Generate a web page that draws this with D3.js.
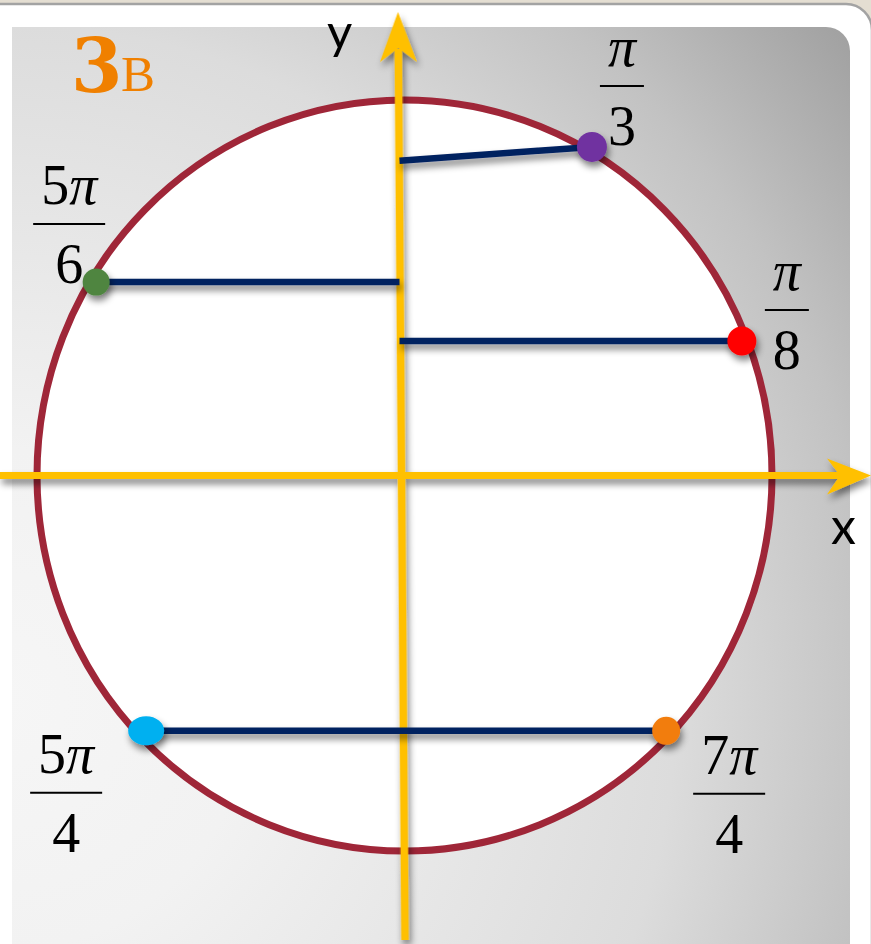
<!DOCTYPE html>
<html>
<head>
<meta charset="utf-8">
<script src="https://cdn.jsdelivr.net/npm/d3@7"></script>
<style>
  body { margin: 0; background: #e4ded2; }
  svg { display: block; }
</style>
</head>
<body>
<svg id="unitCircle" width="871" height="944"></svg>
<script>
// angle labels for each marked point
const angleNum = ['π', 'π', '5π', '5π', '7π'];
const angleDen = ['8', '3', '6', '4', '4'];
// point positions on the unit circle (cos, sin)
const cosVals = [0.918, 0.510, -0.839, -0.703, 0.712];
const sinVals = [0.358, 0.875, 0.515, -0.680, -0.680];
// chords: start (x0,y0) -> end (x1,y1), unit coordinates (0 = on the y axis)
const chordX0 = [0, 0, -0.839, -0.703];
const chordY0 = [0.358, 0.838, 0.515, -0.680];
const chordX1 = [0.918, 0.510, 0, 0.712];
const chordY1 = [0.358, 0.875, 0.515, -0.680];
const axisNames = ['x', 'y'];
const title = ['3', 'B'];

const svg = d3.select('#unitCircle');
const width = +svg.attr('width');
const height = +svg.attr('height');

const pointColors = ['#ff0000', '#7030a0', '#4f8540', '#00b0f0', '#f27d0c'];
const pointRx = [14.5, 15, 13.5, 18, 14];
const pointRy = [14.5, 15, 13.5, 14.5, 14];
// label offsets (fraction bar centre relative to point)
const labelDx = [45, 30, -27, -80, 63];
const labelDy = [-31, -61, -58, 62, 63];

const x = d3.scaleLinear().domain([-1, 1]).range([37, 772]);
const y = d3.scaleLinear().domain([-1, 1]).range([851, 100]);

const defs = svg.append('defs');
const grad = defs.append('radialGradient')
    .attr('id', 'panelGrad')
    .attr('gradientUnits', 'userSpaceOnUse')
    .attr('cx', 0).attr('cy', 700).attr('r', 1090);
[[0, '#f6f6f6'], [0.23, '#f2f2f2'], [0.62, '#dcdcdc'], [0.81, '#c2c2c2'], [1, '#9f9f9f']]
    .forEach(s => grad.append('stop').attr('offset', s[0]).attr('stop-color', s[1]));

const shadow = defs.append('filter').attr('id', 'shadow')
    .attr('x', '-20%').attr('y', '-20%').attr('width', '140%').attr('height', '140%');
shadow.append('feGaussianBlur').attr('in', 'SourceAlpha').attr('stdDeviation', 3.5).attr('result', 'blur');
shadow.append('feOffset').attr('in', 'blur').attr('dx', 2).attr('dy', 5).attr('result', 'off');
shadow.append('feComponentTransfer').attr('in', 'off').attr('result', 'soft')
    .append('feFuncA').attr('type', 'linear').attr('slope', 0.5);
const merge = shadow.append('feMerge');
merge.append('feMergeNode').attr('in', 'soft');
merge.append('feMergeNode').attr('in', 'SourceGraphic');

// frame
svg.append('rect').attr('width', width).attr('height', height).attr('fill', '#e4ded2');
svg.append('path')
    .attr('d', 'M-10,4 H846 A26,26 0 0 1 872,30 V960 H-10 Z')
    .attr('fill', '#ffffff')
    .attr('stroke', '#a3a3a3')
    .attr('stroke-width', 2.5);
svg.append('path')
    .attr('d', 'M12,27 H826 A24,24 0 0 1 850,51 V944 H12 Z')
    .attr('fill', 'url(#panelGrad)');

// title "3B"
const t = svg.append('text').attr('fill', '#f08000');
t.append('tspan').attr('x', 71).attr('y', 92)
    .attr('font-family', 'DejaVu Serif').attr('font-weight', 'bold').attr('font-size', 74)
    .text(title[0]);
t.append('tspan').attr('x', 121).attr('y', 91)
    .attr('font-family', 'Liberation Serif').attr('font-size', 51)
    .text(title[1]);

// unit circle
svg.append('ellipse')
    .attr('cx', x(0)).attr('cy', y(0))
    .attr('rx', x(1) - x(0)).attr('ry', y(-1) - y(0))
    .attr('fill', '#ffffff')
    .attr('stroke', '#9f2638')
    .attr('stroke-width', 7);

// axes
const axisColor = '#ffc000';
const axisX = x(0) - 3;
const axisY = y(0);
const axes = svg.append('g').attr('filter', 'url(#shadow)');
axes.append('line')
    .attr('x1', 0).attr('x2', 841)
    .attr('y1', axisY).attr('y2', axisY)
    .attr('stroke', axisColor).attr('stroke-width', 7);
axes.append('path')
    .attr('d', `M${width},${axisY} L827,${axisY - 17} L840,${axisY} L827,${axisY + 19} Z`)
    .attr('fill', axisColor);
const yAxisG = axes.append('g')
    .attr('transform', `rotate(-0.43, ${axisX}, ${axisY})`);
yAxisG.append('line')
    .attr('x1', axisX).attr('x2', axisX)
    .attr('y1', height - 4).attr('y2', 49)
    .attr('stroke', axisColor).attr('stroke-width', 7.5);
yAxisG.append('path')
    .attr('d', `M${axisX},12 L${axisX - 18.5},62 L${axisX},48 L${axisX + 18.5},62 Z`)
    .attr('fill', axisColor);

svg.append('text')
    .attr('x', 831).attr('y', 544)
    .attr('font-family', 'Lato').attr('font-size', 50)
    .attr('fill', '#000')
    .text(axisNames[0]);
svg.append('text')
    .attr('x', 327).attr('y', 49)
    .attr('font-family', 'Lato').attr('font-size', 49)
    .attr('fill', '#000')
    .text(axisNames[1]);

// chords
const cx0 = v => v === 0 ? axisX - 2 : x(v);
svg.append('g').attr('filter', 'url(#shadow)')
    .selectAll('line')
    .data(chordX0.map((d, i) => i)).enter()
    .append('line')
    .attr('x1', i => cx0(chordX0[i]))
    .attr('y1', i => y(chordY0[i]))
    .attr('x2', i => cx0(chordX1[i]))
    .attr('y2', i => y(chordY1[i]))
    .attr('stroke', '#002060')
    .attr('stroke-width', 6.5);

// points
svg.append('g').attr('filter', 'url(#shadow)')
    .selectAll('ellipse')
    .data(cosVals.map((d, i) => i)).enter()
    .append('ellipse')
    .attr('cx', i => x(cosVals[i]))
    .attr('cy', i => y(sinVals[i]))
    .attr('rx', i => pointRx[i])
    .attr('ry', i => pointRy[i])
    .attr('fill', i => pointColors[i]);

// angle fractions
const labels = svg.append('g')
    .attr('font-family', 'Liberation Serif')
    .attr('font-size', 56)
    .attr('fill', '#000');
angleNum.forEach((num, i) => {
    const cx = x(cosVals[i]) + labelDx[i];
    const cy = y(sinVals[i]) + labelDy[i];
    const nt = labels.append('text')
        .attr('x', cx).attr('y', cy - 20)
        .attr('text-anchor', 'middle');
    const digits = num.replace('π', '');
    if (digits) nt.append('tspan').text(digits);
    nt.append('tspan').attr('font-style', 'italic').text('π');
    const w = nt.node().getBBox().width;
    labels.append('line')
        .attr('x1', cx - w / 2 - 7).attr('x2', cx + w / 2 + 7)
        .attr('y1', cy).attr('y2', cy)
        .attr('stroke', '#000').attr('stroke-width', 2);
    labels.append('text')
        .attr('x', cx).attr('y', cy + 59)
        .attr('text-anchor', 'middle')
        .text(angleDen[i]);
});
</script>
</body>
</html>
